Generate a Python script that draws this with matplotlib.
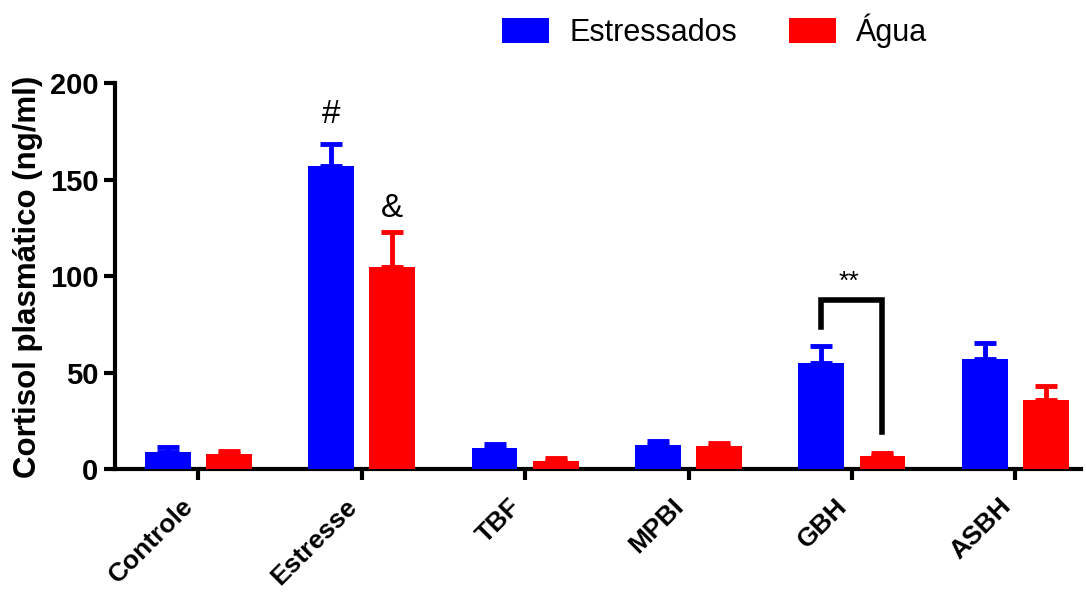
import numpy as np
import matplotlib
matplotlib.use('Agg')
import matplotlib.pyplot as plt

plt.rcParams['font.family'] = ['Liberation Sans', 'DejaVu Sans']

groups = ['Controle', 'Estresse', 'TBF', 'MPBI', 'GBH', 'ASBH']
estressados = [9, 157, 11, 12.5, 55, 57]
estressados_err = [2.5, 11.5, 2, 2, 9, 8.3]
agua = [8, 105, 4.5, 12, 7, 36]
agua_err = [1.5, 18, 1.5, 1.5, 1.7, 7]

BLUE = '#0000ff'
RED = '#ff0000'

fig = plt.figure(figsize=(10.86, 5.92), dpi=100)
ax = fig.add_axes([0.106, 0.207, 0.889, 0.652])

x = np.arange(len(groups))
w = 0.28
off = 0.187

ekw = dict(elinewidth=3.5, capsize=8, capthick=3.5)
ax.bar(x - off, estressados, w, color=BLUE, label='Estressados', zorder=3)
ax.errorbar(x - off, estressados, yerr=[np.zeros(len(x)), estressados_err],
            fmt='none', ecolor=BLUE, zorder=2, **ekw)
ax.bar(x + off, agua, w, color=RED, label='Água', zorder=3)
ax.errorbar(x + off, agua, yerr=[np.zeros(len(x)), agua_err],
            fmt='none', ecolor=RED, zorder=2, **ekw)

ax.set_xlim(-0.51, 5.40)
ax.set_ylim(0, 200)
ax.set_yticks([0, 50, 100, 150, 200])
ax.set_xticks(x)
ax.set_xticklabels(groups, rotation=45, ha='right', va='bottom', rotation_mode='anchor')

for lab in ax.get_xticklabels():
    lab.set_fontweight('bold')
    lab.set_fontsize(19)
for lab in ax.get_yticklabels():
    lab.set_fontweight('bold')
    lab.set_fontsize(21)

ax.tick_params(axis='both', width=3, length=8, direction='out')
ax.tick_params(axis='x', pad=22)
ax.tick_params(axis='y', pad=4)
for s in ['top', 'right']:
    ax.spines[s].set_visible(False)
for s in ['left', 'bottom']:
    ax.spines[s].set_linewidth(3)

ax.set_ylabel('Cortisol plasmático (ng/ml)', fontsize=22.5, fontweight='bold', labelpad=5)

# significance marks
ax.text(x[1] - off, 176, '#', ha='center', va='bottom', fontsize=24)
ax.text(x[1] + off, 127, '&', ha='center', va='bottom', fontsize=24)

gx1, gx2 = x[4] - off, x[4] + off
ax.plot([gx1, gx1, gx2, gx2], [74, 88, 88, 19.5], color='black', lw=4,
        solid_joinstyle='miter', zorder=4)
ax.text((gx1 + gx2) / 2 - 0.02, 91, '**', ha='center', va='bottom', fontsize=19)

fig.legend(loc='upper left', bbox_to_anchor=(0.437, 1.024), ncol=2, frameon=False,
           fontsize=22, handlelength=1.55, handleheight=0.9, columnspacing=1.7,
           handletextpad=0.65)

fig.savefig('out.png', dpi=100)
